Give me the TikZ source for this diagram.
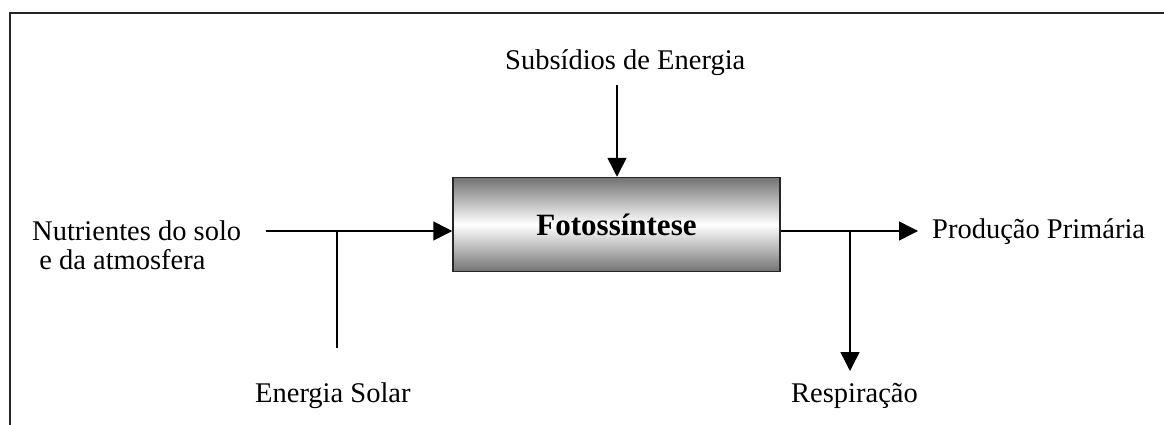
\documentclass[tikz,border=0pt]{standalone}
\usepackage{fontspec}
\setmainfont{Liberation Serif}
\usetikzlibrary{arrows.meta}
\tikzset{
  lbl/.style={font=\fontsize{28.5}{29}\selectfont, inner sep=0pt},
  conn/.style={line width=1.5pt, draw=black},
  arr/.style={conn, -{Triangle[length=19pt,width=19pt]}},
  procbox/.style={draw=black!85, line width=1.5pt, minimum width=327pt, minimum height=94pt,
    top color=black!55, bottom color=black!55, middle color=white, shading angle=0,
    font=\fontsize{31}{36}\selectfont\bfseries, inner sep=0pt},
  frame/.style={line width=2.2pt, draw=black!85}
}
\begin{document}
\begin{tikzpicture}[x=1pt,y=-1pt]
\useasboundingbox (0,0) rectangle (1164,425);
\draw[frame] (10,440) -- (10,13) -- (1180,13);
\node[procbox] (fot) at (616.5,224.5) {Fotossíntese};
\node[lbl, anchor=base west] (sub) at (505,70) {Subsídios de Energia};
\node[lbl, align=left, anchor=north west] (nut) at (32,220.5) {Nutrientes do solo\\\ e da atmosfera};
\node[lbl, anchor=base west] (sol) at (255,402) {Energia Solar};
\node[lbl, anchor=base west] (resp) at (791,402) {Respiração};
\node[lbl, anchor=base west] (prod) at (932,238) {Produção Primária};
\coordinate (subs) at (617,85);
\coordinate (inL) at (266,231);
\coordinate (jL) at (337,231);
\coordinate (solT) at (337,348);
\coordinate (jR) at (850,231);
\coordinate (respT) at (850,371);
\coordinate (prodT) at (918,231);
\draw[arr] (subs) -- (subs |- fot.north);
\draw[arr] (inL) -- (inL -| fot.west);
\draw[conn] (solT) -- (jL);
\draw[arr] (jR -| fot.east) -- (prodT);
\draw[arr] (jR) -- (respT);
\end{tikzpicture}
\end{document}
